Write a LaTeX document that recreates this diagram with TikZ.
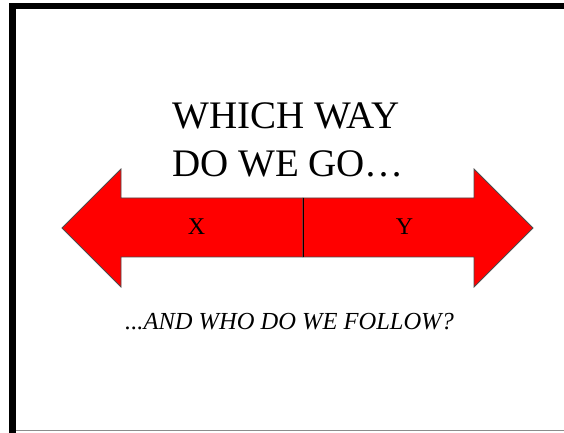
\documentclass[tikz,border=0pt]{standalone}
\usepackage{fontspec}
\setmainfont{Liberation Serif}
\begin{document}
\begin{tikzpicture}[x=1pt,y=1pt,
  arrowpart/.style={fill=red, draw=black!70, line width=0.8pt, line join=miter},
  txt/.style={inner sep=0pt, anchor=base west, text=black},
  lbl/.style={inner sep=0pt, anchor=base, text=black, font=\fontsize{24}{28}\selectfont}]
\useasboundingbox (0,0) rectangle (564,433);
\fill[white] (0,0) rectangle (564,433);
% frame
\draw[black!45, line width=1pt] (9,2) -- (566,2);
\draw[black, line width=6.5pt] (12.5,-2) -- (12.5,427) -- (566,427);
% arrows
\draw[arrowpart] (303,235) -- (121,235) -- (121,264) -- (62,205) -- (121,146) -- (121,176) -- (303,176) -- cycle;
\draw[arrowpart] (303,235) -- (474,235) -- (474,264) -- (533,205) -- (474,146) -- (474,176) -- (303,176) -- cycle;
\draw[black, line width=0.9pt] (303,235) -- (303,176);
% texts
\node[txt, font=\fontsize{39}{48}\selectfont] (t1) at (172,304) {WHICH WAY};
\node[txt, font=\fontsize{39}{48}\selectfont] (t2) at (172,256) {DO WE GO…};
\node[lbl] (x) at (196.5,198) {X};
\node[lbl] (y) at (404.5,198) {Y};
\node[txt, font=\fontsize{24.5}{28}\selectfont\itshape] (t3) at (125,103) {...AND WHO DO WE FOLLOW?};
\end{tikzpicture}
\end{document}
